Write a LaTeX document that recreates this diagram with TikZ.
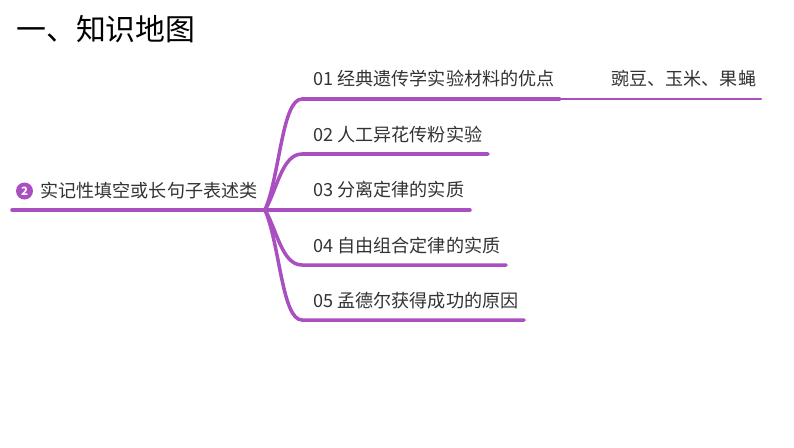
\documentclass[tikz,border=0pt]{standalone}
\usepackage{fontspec}
\setmainfont{Noto Sans CJK SC}
\definecolor{branchpurple}{HTML}{A94FC0}
\definecolor{labelgrey}{HTML}{333333}
\tikzset{
  branch/.style={draw=branchpurple, line width=2pt, line cap=round},
  thinbranch/.style={draw=branchpurple, line width=1.3pt, line cap=round},
  label/.style={anchor=west, inner sep=0pt, text=labelgrey, font=\fontsize{10.3pt}{12pt}\selectfont},
}

\begin{document}
\begin{tikzpicture}[x=0.02cm,y=-0.02cm]
  \useasboundingbox (0,0) rectangle (794,447);

  % Title
  \node[anchor=west, inner sep=0pt, font=\fontsize{17pt}{20pt}\selectfont] (title) at (16,29.5) {一、知识地图};

  % Root topic
  \node[circle, fill=branchpurple, text=white, inner sep=0pt, minimum size=0.34cm, font=\fontsize{6.5pt}{7pt}\selectfont\bfseries] (badge) at (24.5,191) {2};
  \node[label] (root) at (40,191) {实记性填空或长句子表述类};
  \coordinate (rootstart) at (12,210);
  \coordinate (hub) at (265,210);
  \draw[branch] (rootstart) -- (hub);

  % Topic 01
  \node[label] (topic1) at (313,79) {01 经典遗传学实验材料的优点};
  \coordinate (bend1) at (302,99);
  \coordinate (end1) at (560,99);
  \draw[branch] (hub) .. controls (280,175) and (282,99) .. (bend1) -- (end1);

  % Topic 01, its answer
  \node[label] (answer1) at (611,79) {豌豆、玉米、果蝇};
  \coordinate (tail1) at (761,99);
  \draw[thinbranch] (end1) -- (tail1);

  % Topic 02
  \node[label] (topic2) at (313,135) {02 人工异花传粉实验};
  \coordinate (bend2) at (302,154);
  \coordinate (end2) at (488,154);
  \draw[branch] (hub) .. controls (277,190) and (282,154) .. (bend2) -- (end2);

  % Topic 03
  \node[label] (topic3) at (313,190) {03 分离定律的实质};
  \coordinate (end3) at (470,210);
  \draw[branch] (hub) -- (end3);

  % Topic 04
  \node[label] (topic4) at (313,246) {04 自由组合定律的实质};
  \coordinate (bend4) at (302,265);
  \coordinate (end4) at (506,265);
  \draw[branch] (hub) .. controls (277,230) and (282,265) .. (bend4) -- (end4);

  % Topic 05
  \node[label] (topic5) at (313,301) {05 孟德尔获得成功的原因};
  \coordinate (bend5) at (302,320);
  \coordinate (end5) at (524,320);
  \draw[branch] (hub) .. controls (280,245) and (282,320) .. (bend5) -- (end5);
\end{tikzpicture}
\end{document}
